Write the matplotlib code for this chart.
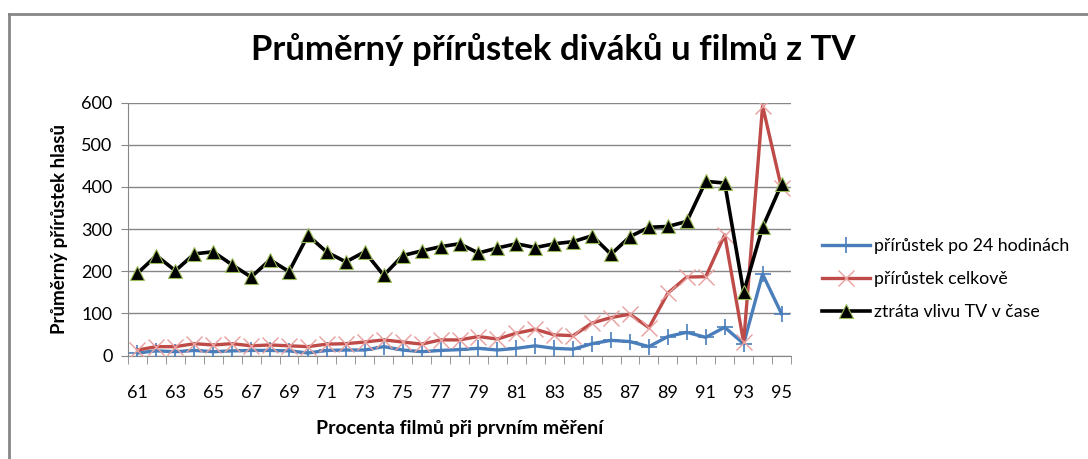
import numpy as np
import matplotlib
matplotlib.use('Agg')
from matplotlib import pyplot as plt
from matplotlib.lines import Line2D

plt.rcParams['font.family'] = ['Lato', 'DejaVu Sans']

procenta = list(range(61, 96))
po_24h = [6, 11, 9, 12, 9, 11, 12, 12, 11, 6, 12, 13, 13, 21, 13, 9, 12, 14,
          17, 13, 17, 23, 17, 15, 28, 36, 33, 21, 45, 55, 43, 67, 28, 193, 99]
celkove = [13, 21, 21, 28, 25, 28, 23, 25, 23, 21, 27, 28, 32, 37, 32, 27, 37, 37,
           45, 39, 53, 62, 49, 47, 77, 90, 98, 66, 148, 186, 187, 286, 31, 592, 397]
ztrata = [195, 237, 201, 241, 246, 215, 186, 227, 199, 285, 245, 222, 246, 190, 237, 248, 258, 265,
          243, 255, 265, 256, 265, 270, 284, 240, 282, 304, 306, 318, 413, 409, 150, 304, 406]
nazvy = ['přírůstek po 24 hodinách', 'přírůstek celkově', 'ztráta vlivu TV v čase']

fig = plt.figure(figsize=(10.88, 4.59), dpi=100)
ax = fig.add_axes([128/1088, 1 - 355.5/459, 663/1088, 253/459])

x = np.arange(len(procenta))
gray = '#868686'

ax.plot(x, po_24h, color='#4A7EBB', lw=2.4, marker='+', ms=11, mew=1.2,
        mec='#4A7EBB', label=nazvy[0], zorder=3)
ax.plot(x, celkove, color='#BE4B48', lw=2.4, marker='x', ms=12, mew=1.0,
        mec='#E8A09E', label=nazvy[1], zorder=3)
ax.plot(x, ztrata, color='black', lw=2.6, marker='^', ms=10, mfc='black',
        mec='#9BBB59', mew=0.8, label=nazvy[2], zorder=4)

ax.set_xlim(-0.5, len(procenta) - 0.5)
ax.set_ylim(0, 600)
ax.set_yticks(range(0, 601, 100))
ax.yaxis.grid(True, color=gray, lw=1)
ax.set_axisbelow(True)
ax.set_xticks(x[::2])
ax.set_xticklabels([str(p) for p in procenta[::2]])
ax.set_xticks(np.arange(-0.5, len(procenta), 1), minor=True)
ax.tick_params(axis='x', which='major', length=0, pad=21, labelsize=13)
ax.tick_params(axis='x', which='minor', length=6, color=gray, direction='out')
ax.tick_params(axis='y', length=5, color=gray, labelsize=13, pad=6)
for s in ['top', 'right']:
    ax.spines[s].set_visible(False)
for s in ['left', 'bottom']:
    ax.spines[s].set_color(gray)

ax.set_ylabel('Průměrný přírůstek hlasů', fontsize=13.5, fontweight='bold', labelpad=10)
ax.set_xlabel('Procenta filmů při prvním měření', fontsize=14, fontweight='bold', labelpad=14)

fig.text(553/1088, 1 - 50/459, 'Průměrný přírůstek diváků u filmů z TV',
         ha='center', va='center', fontsize=25, fontweight='bold')

fig.legend(loc='upper left', bbox_to_anchor=(806/1088, 1 - 222/459), frameon=False,
           fontsize=12.8, handlelength=2.7, handletextpad=0.2, labelspacing=0.95)

# frame of the chart area
fig.add_artist(Line2D([9/1088, 9/1088], [0, 1 - 14/459], transform=fig.transFigure, color=gray, lw=2))
fig.add_artist(Line2D([9/1088, 1], [1 - 14/459, 1 - 14/459], transform=fig.transFigure, color=gray, lw=2))

fig.savefig('out.png', dpi=100)
